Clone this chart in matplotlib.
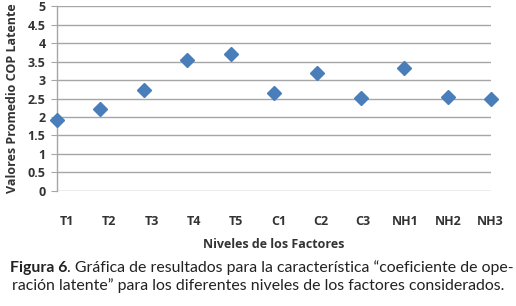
import matplotlib
matplotlib.use("Agg")
import matplotlib.pyplot as plt
import numpy as np

categories = ["T1", "T2", "T3", "T4", "T5", "C1", "C2", "C3", "NH1", "NH2", "NH3"]
values = [1.92, 2.22, 2.73, 3.53, 3.70, 2.64, 3.20, 2.52, 3.32, 2.55, 2.49]
yticks = [0, 0.5, 1, 1.5, 2, 2.5, 3, 3.5, 4, 4.5, 5]
ytick_labels = ["0", "0.5", "1", "1.5", "2", "2.5", "3", "3.5", "4", "4.5", "5"]

fig = plt.figure(figsize=(5.16, 3.06), dpi=100)
ax = fig.add_axes([0.110, 0.376, 0.842, 0.604])

x = np.arange(len(categories))
ax.set_ylim(0, 5)
ax.set_xlim(0, len(categories) - 1)
ax.set_yticks(yticks)
ax.set_yticklabels(ytick_labels, fontsize=9, fontweight="bold", color="#333333",
                   family="Open Sans")
ax.yaxis.grid(True, color="#a6a6a6", linewidth=1.0)
ax.set_axisbelow(True)
for s in ["top", "right", "bottom"]:
    ax.spines[s].set_visible(False)
ax.spines["left"].set_color("#a6a6a6")
ax.spines["left"].set_linewidth(1.0)
ax.tick_params(axis="y", length=4, color="#a6a6a6", pad=4)
ax.tick_params(axis="x", length=0)
ax.set_xticks([])

ax.plot(x, values, linestyle="none", marker="D", markersize=7.5,
        color="#4a7ebb", clip_on=False, zorder=3)

# category labels under the plot
for i, c in enumerate(categories):
    ax.annotate(c, xy=(0.23 + 0.975 * i, 0), xycoords=("data", "axes fraction"),
                xytext=(0, -22), textcoords="offset points", ha="center", va="center",
                fontsize=9, fontweight="bold", color="#333333", family="Open Sans",
                annotation_clip=False)

ax.set_ylabel("Valores Promedio COP Latente", fontsize=9, fontweight="bold",
              color="#333333", family="Open Sans", labelpad=6)
ax.yaxis.set_label_coords(-0.088, 0.5)

fig.text(274 / 516, 1 - 245 / 306, "Niveles de los Factores", ha="center", va="center",
         fontsize=9, fontweight="bold", color="#333333", family="Open Sans")

line1_bold = "Figura 6"
line1_rest = ". Gráfica de resultados para la característica “coeficiente de ope-"
line2 = "ración latente” para los diferentes niveles de los factores considerados."
t1 = fig.text(10 / 516, 1 - 268 / 306, line1_bold, ha="left", va="center", fontsize=11.4,
              fontweight="bold", color="#222222", family="Lato")
fig.canvas.draw()
bb = t1.get_window_extent()
x1 = bb.x1 / fig.bbox.width
fig.text(x1, 1 - 268 / 306, line1_rest, ha="left", va="center", fontsize=11.4,
         color="#222222", family="Lato")
fig.text(0.5, 1 - 286 / 306, line2, ha="center", va="center", fontsize=11.4,
         color="#222222", family="Lato")

fig.savefig("out.png", dpi=100)
